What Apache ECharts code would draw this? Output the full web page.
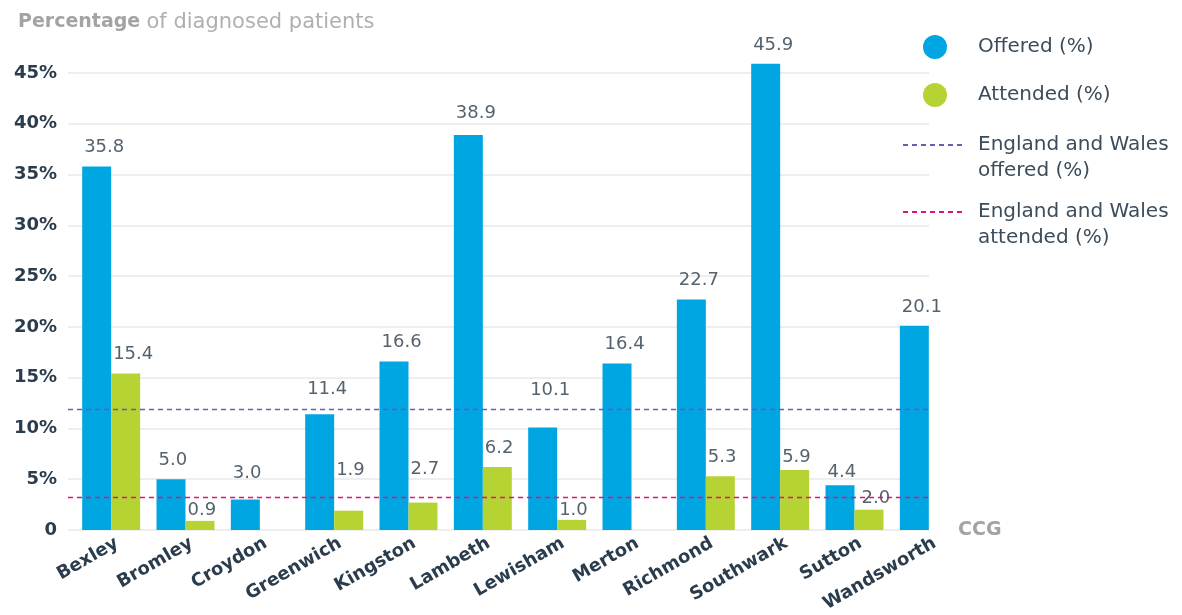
<!DOCTYPE html>
<html>
<head>
<meta charset="utf-8">
<script src="https://cdn.jsdelivr.net/npm/echarts@6/dist/echarts.min.js"></script>
<style>html,body{margin:0;padding:0;background:#fff}#c{width:1182px;height:615px}</style>
</head>
<body>
<div id="c"></div>
<script>
var categories = ['Bexley','Bromley','Croydon','Greenwich','Kingston','Lambeth','Lewisham','Merton','Richmond','Southwark','Sutton','Wandsworth'];
var offered = [35.8, 5.0, 3.0, 11.4, 16.6, 38.9, 10.1, 16.4, 22.7, 45.9, 4.4, 20.1];
var attended = [15.4, 0.9, null, 1.9, 2.7, 6.2, 1.0, null, 5.3, 5.9, 2.0, null];
var ewOffered = 11.9;
var ewAttended = 3.2;
var yTicks = {min: 0, max: 45, interval: 5};

// label placement nudges (pixels, styling only)
var offeredLabelLift = {Croydon: 7, Greenwich: 6, Lambeth: 3, Lewisham: 18, Sutton: -6};
var attendedLabelLift = {Bromley: -8, Greenwich: 21, Kingston: 14, Lewisham: -9, Southwark: -6, Sutton: -9};

var FONT = 'DejaVu Sans';
var BLUE = '#00a6e1', GREEN = '#b6d334', PURPLE = '#7158b6', PINK = '#e3117f';
var DARK = '#2b3d4d', LABEL = '#55636f';
var HALF_BAR = 14.5;

var chart = echarts.init(document.getElementById('c'));

function fmt(p){ return p.value == null ? '' : Number(p.value).toFixed(1); }

function withLabels(values, lifts, extra) {
  return values.map(function(v, i){
    var name = categories[i];
    var lift = lifts[name] || 0;
    var item = {value: v, label: {offset: [-HALF_BAR + 2, -lift]}};
    if (extra[name]) {
      for (var k in extra[name]) item.label[k] = extra[name][k];
    }
    return item;
  });
}

var offeredData = withLabels(offered, offeredLabelLift, {});
var attendedData = withLabels(attended, attendedLabelLift, {
  Sutton: {backgroundColor: '#fff', padding: [1, 4, 1, 4], offset: [-HALF_BAR + 3, 9]}
});

var labelBase = {show: true, position: 'top', distance: 10, align: 'left', formatter: fmt,
  fontFamily: FONT, fontSize: 18, color: LABEL};

chart.setOption({
  animation: false,
  textStyle: {fontFamily: FONT},
  title: {
    left: 13, top: 7,
    text: '{b|Percentage} {n|of diagnosed patients}',
    textStyle: {
      rich: {
        b: {fontFamily: FONT, fontSize: 19, fontWeight: 'bold', color: '#a3a3a3'},
        n: {fontFamily: FONT, fontSize: 21, fontWeight: 'normal', color: '#b0b0b0'}
      }
    }
  },
  grid: [
    {left: 68, right: 253, top: 73, bottom: 85},
    {left: 74, right: 216, top: 73, bottom: 85},
    {left: 80, right: 210, top: 73, bottom: 85}
  ],
  xAxis: [
    {type: 'category', gridIndex: 0, data: categories, show: false},
    {type: 'category', gridIndex: 1, data: categories, show: false},
    {
      type: 'category', gridIndex: 2, data: categories,
      axisLine: {show: false}, axisTick: {show: false},
      axisLabel: {rotate: 30, margin: 12, fontFamily: FONT, fontSize: 18, fontWeight: 'bold', color: DARK, interval: 0},
      name: 'CCG', nameLocation: 'end', nameGap: -14,
      nameTextStyle: {fontFamily: FONT, fontSize: 19, fontWeight: 'bold', color: '#a3a3a3', align: 'left', verticalAlign: 'middle'}
    }
  ],
  yAxis: [
    {
      type: 'value', gridIndex: 0, min: yTicks.min, max: yTicks.max, interval: yTicks.interval,
      axisLine: {show: false}, axisTick: {show: false},
      axisLabel: {margin: 11, fontFamily: FONT, fontSize: 18, fontWeight: 'bold', color: DARK,
        formatter: function(v){ return v === 0 ? '0' : v + '%'; }},
      splitLine: {lineStyle: {color: '#e9e9e9', width: 1.5}}
    },
    {
      type: 'value', gridIndex: 1, min: yTicks.min, max: yTicks.max, interval: yTicks.interval,
      show: false, splitLine: {show: false}
    },
    {
      type: 'value', gridIndex: 2, min: yTicks.min, max: yTicks.max, interval: yTicks.interval,
      show: false, splitLine: {show: false}
    }
  ],
  legend: [
    {
      orient: 'vertical', left: 918, top: 30, itemWidth: 70, itemHeight: 24, itemGap: 24,
      selectedMode: false,
      textStyle: {fontFamily: FONT, fontSize: 20, color: '#3c4c5b', padding: [0, 0, 0, 3]},
      data: [{name: 'Offered (%)', icon: 'circle'}, {name: 'Attended (%)', icon: 'circle'}]
    },
    {
      orient: 'vertical', left: 897, top: 101, itemWidth: 61, itemHeight: 14,
      selectedMode: false,
      formatter: function(n){ return '\u00a0\nEngland and Wales\noffered (%)'; },
      textStyle: {fontFamily: FONT, fontSize: 20, color: '#3c4c5b', lineHeight: 26, padding: [0, 0, 0, 9]},
      data: [{name: 'England and Wales offered (%)', itemStyle: {opacity: 0}}]
    },
    {
      orient: 'vertical', left: 897, top: 168, itemWidth: 61, itemHeight: 14,
      selectedMode: false,
      formatter: function(n){ return '\u00a0\nEngland and Wales\nattended (%)'; },
      textStyle: {fontFamily: FONT, fontSize: 20, color: '#3c4c5b', lineHeight: 26, padding: [0, 0, 0, 9]},
      data: [{name: 'England and Wales attended (%)', itemStyle: {opacity: 0}}]
    }
  ],
  series: [
    {
      name: 'Offered (%)', type: 'bar', xAxisIndex: 1, yAxisIndex: 1, z: 2,
      data: offeredData, barGap: '0%', barCategoryGap: '22%', clip: false,
      itemStyle: {color: BLUE},
      label: labelBase
    },
    {
      name: 'Attended (%)', type: 'bar', xAxisIndex: 1, yAxisIndex: 1, z: 2,
      data: attendedData, barGap: '0%', barCategoryGap: '22%', clip: false,
      itemStyle: {color: GREEN},
      label: labelBase
    },
    {
      name: 'England and Wales offered (%)', type: 'line', xAxisIndex: 0, yAxisIndex: 0,
      data: [], symbol: 'none', z: 3,
      itemStyle: {color: PURPLE},
      lineStyle: {color: PURPLE, type: [5, 4], width: 1.3},
      markLine: {silent: true, symbol: 'none', label: {show: false},
        lineStyle: {color: PURPLE, type: [5, 4], width: 1.3},
        data: [{yAxis: ewOffered}]}
    },
    {
      name: 'England and Wales attended (%)', type: 'line', xAxisIndex: 0, yAxisIndex: 0,
      data: [], symbol: 'none', z: 3,
      itemStyle: {color: PINK},
      lineStyle: {color: PINK, type: [5, 4], width: 1.3},
      markLine: {silent: true, symbol: 'none', label: {show: false},
        lineStyle: {color: PINK, type: [5, 4], width: 1.3},
        data: [{yAxis: ewAttended}]}
    }
  ]
});
</script>
</body>
</html>
